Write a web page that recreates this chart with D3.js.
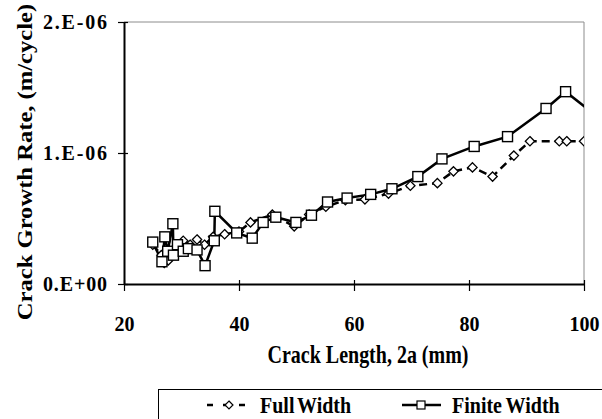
<!DOCTYPE html>
<html><head><meta charset="utf-8">
<script src="https://cdn.jsdelivr.net/npm/d3@7/dist/d3.min.js"></script>
<style>body{margin:0;background:#fff}svg{display:block}text{font-family:"Liberation Serif","Times New Roman",serif;font-weight:bold;fill:#000}</style>
</head><body>
<script>
// Data (x: crack length 2a in mm, y: growth rate in 1e-6 m/cycle)
const fullX = [25.0,26.5,27.0,27.7,28.3,29.0,30.3,31.5,32.7,34.0,35.5,37.5,40.0,42.0,45.8,49.6,52.2,55.1,58.5,61.9,66.0,69.8,74.5,77.3,80.6,84.1,87.8,90.6,95.7,97.0,100.0];
const fullY = [0.30,0.22,0.16,0.18,0.22,0.26,0.33,0.30,0.34,0.30,0.36,0.38,0.40,0.47,0.53,0.44,0.53,0.59,0.64,0.646,0.69,0.75,0.77,0.86,0.89,0.82,0.98,1.09,1.09,1.09,1.09];
const finX = [25.0,26.6,27.1,27.6,28.5,28.6,29.3,30.3,31.2,32.7,34.1,35.7,35.8,39.6,42.3,44.2,46.4,49.9,52.6,55.4,58.8,62.9,66.6,71.1,75.3,80.9,86.7,93.4,96.8,102.0];
const finY = [0.32,0.17,0.36,0.25,0.46,0.22,0.30,0.25,0.27,0.26,0.14,0.33,0.555,0.39,0.35,0.47,0.51,0.47,0.525,0.626,0.656,0.684,0.727,0.82,0.955,1.05,1.125,1.34,1.468,1.29];
const xTicks = [20,40,60,80,100];
const yTicks = [0,1,2];
const yTickLabels = ["0.E+00","1.E-06","2.E-06"];
const seriesNames = ["Full Width","Finite Width"];

const W=602,H=419;
const svg=d3.select("body").append("svg").attr("width",W).attr("height",H);
const x=d3.scaleLinear().domain([20,100]).range([124,584]);
const y=d3.scaleLinear().domain([0,2]).range([284,22]);

svg.append("defs").append("clipPath").attr("id","clip")
  .append("rect").attr("x",124).attr("y",15).attr("width",460).attr("height",275);

// plot border (top/right gray)
svg.append("line").attr("x1",124).attr("x2",584).attr("y1",22).attr("y2",22).attr("stroke","#8c8c8c").attr("stroke-width",1);
svg.append("line").attr("x1",584).attr("x2",584).attr("y1",22).attr("y2",284).attr("stroke","#8c8c8c").attr("stroke-width",1);

// axes
const xAxis=d3.axisBottom(x).tickValues(xTicks).tickSize(0).tickFormat(d3.format("d"));
const gx=svg.append("g").attr("transform","translate(0,284)").call(xAxis);
gx.select(".domain").attr("stroke","#000").attr("stroke-width",2);
gx.selectAll(".tick line").attr("y1",-4).attr("y2",7).attr("stroke","#000").attr("stroke-width",1.2);
gx.selectAll(".tick text").attr("y",33).attr("dy","0.71em").style("font-size","20px").style("font-family",'"Liberation Serif",serif').style("font-weight","bold");

const yAxis=d3.axisLeft(y).tickValues(yTicks).tickSize(0).tickFormat((d,i)=>yTickLabels[i]);
const gy=svg.append("g").attr("transform","translate(124,0)").call(yAxis);
gy.select(".domain").attr("stroke","#000").attr("stroke-width",2);
gy.selectAll(".tick line").attr("x1",-6).attr("x2",4).attr("stroke","#000").attr("stroke-width",1.2);
gy.selectAll(".tick text").attr("x",-17).attr("textLength",64).attr("lengthAdjust","spacing")
  .style("font-size","20px").style("font-family",'"Liberation Serif",serif').style("font-weight","bold");

// titles (vertically stretched like the reference)
svg.append("text").attr("transform","translate(368,363) scale(1,1.25)").attr("text-anchor","middle").style("font-size","20px").text("Crack Length, 2a (mm)");
svg.append("text").attr("transform","translate(32,162) rotate(-90) scale(1.23,1)").attr("text-anchor","middle").style("font-size","20px").text("Crack Growth Rate, (m/cycle)");

const plot=svg.append("g").attr("clip-path","url(#clip)");
const fullData=fullX.map((v,i)=>[v,fullY[i]]);
const finData=finX.map((v,i)=>[v,finY[i]]);
const line=d3.line().x(d=>x(d[0])).y(d=>y(d[1]));

plot.append("path").datum(fullData).attr("d",line).attr("fill","none").attr("stroke","#000").attr("stroke-width",2.5).attr("stroke-dasharray","8,5");
plot.append("path").datum(finData).attr("d",line).attr("fill","none").attr("stroke","#000").attr("stroke-width",2.5);

const diamond=d3.symbol().type(d3.symbolDiamond2).size(55);
plot.selectAll(".dm").data(fullData).join("path").attr("class","dm")
  .attr("transform",d=>`translate(${x(d[0])},${y(d[1])})`).attr("d",diamond)
  .attr("fill","#fff").attr("stroke","#000").attr("stroke-width",1.3);
plot.selectAll(".sq").data(finData).join("rect").attr("class","sq")
  .attr("x",d=>x(d[0])-5).attr("y",d=>y(d[1])-5).attr("width",10).attr("height",10)
  .attr("fill","#fff").attr("stroke","#000").attr("stroke-width",1.4);

// legend
const lg=svg.append("g");
lg.append("rect").attr("x",158.5).attr("y",389.5).attr("width",460).attr("height",40).attr("fill","#fff").attr("stroke","#000").attr("stroke-width",1);
lg.append("line").attr("x1",207).attr("x2",251).attr("y1",405).attr("y2",405).attr("stroke","#000").attr("stroke-width",2.5).attr("stroke-dasharray","6,10");
lg.append("path").attr("transform","translate(229,405)").attr("d",d3.symbol().type(d3.symbolDiamond2).size(40)).attr("fill","#fff").attr("stroke","#000").attr("stroke-width",1.2);
lg.append("text").attr("transform","translate(260,413) scale(1,1.2)").style("font-size","20px").style("word-spacing","-2px").text(seriesNames[0]);
lg.append("line").attr("x1",402).attr("x2",441).attr("y1",405).attr("y2",405).attr("stroke","#000").attr("stroke-width",2.5);
lg.append("rect").attr("x",417).attr("y",401).attr("width",8).attr("height",8).attr("fill","#fff").attr("stroke","#000").attr("stroke-width",1.2);
lg.append("text").attr("transform","translate(452,413) scale(1,1.2)").style("font-size","20px").style("word-spacing","-1px").text(seriesNames[1]);
</script>
</body></html>
